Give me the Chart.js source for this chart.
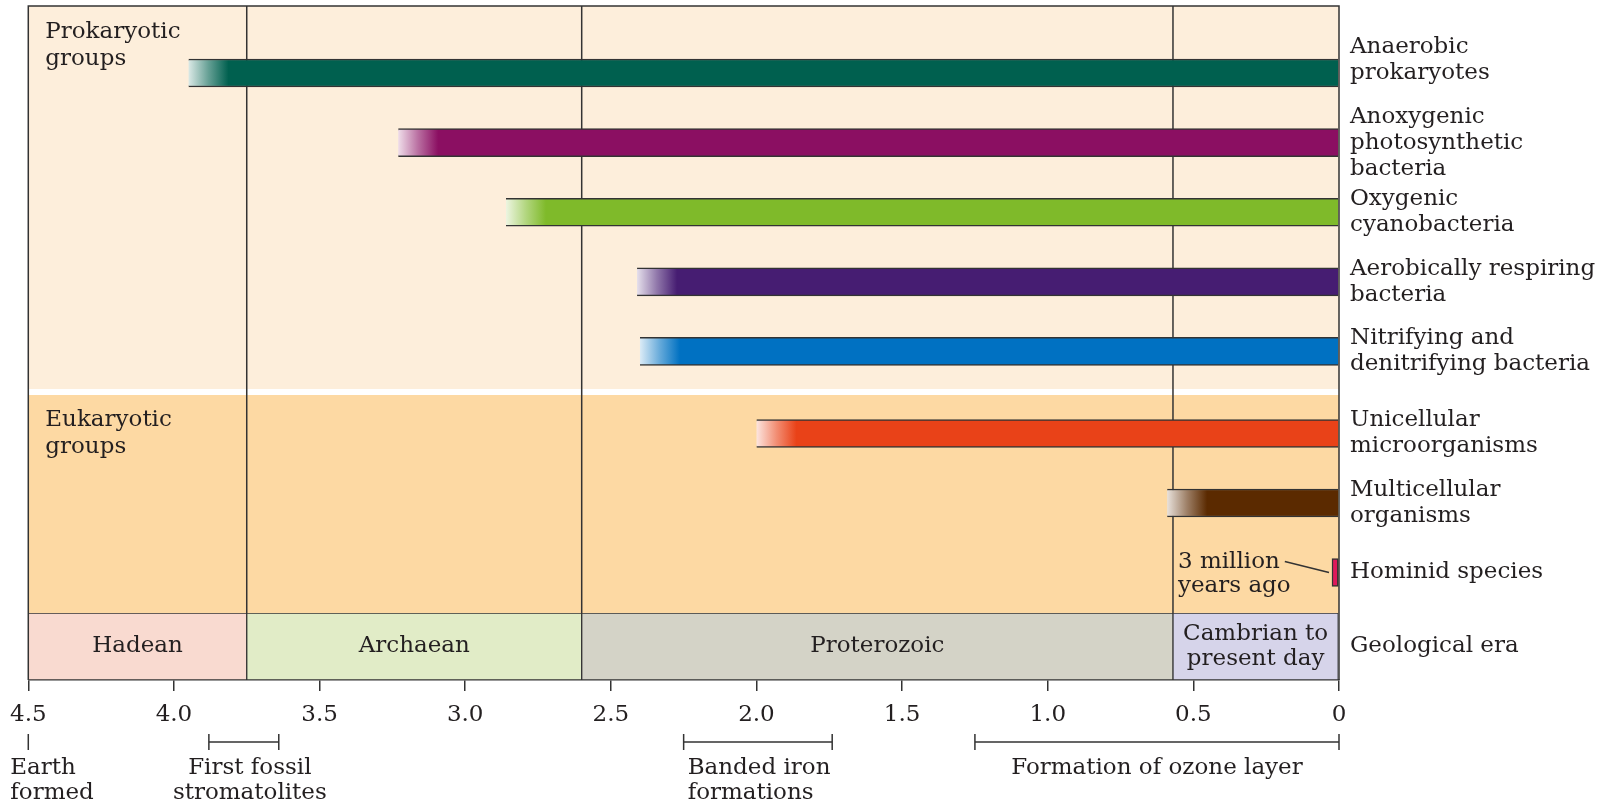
<!DOCTYPE html>
<html>
<head>
<meta charset="utf-8">
<script src="https://cdn.jsdelivr.net/npm/chart.js@4/dist/chart.umd.min.js"></script>
<style>
html,body{margin:0;padding:0;background:#ffffff;}
#c{display:block;}
</style>
</head>
<body>
<canvas id="c" width="1615" height="806"></canvas>
<script>
// ---------------- DATA ----------------
const proGroups = [["Anaerobic","prokaryotes",""],["Anoxygenic","photosynthetic","bacteria"],["Oxygenic","cyanobacteria"],["Aerobically respiring","bacteria"],["Nitrifying and","denitrifying bacteria"]];
const proStart = [3.95, 3.23, 2.86, 2.41, 2.40];   // billion years ago
const proEnd = [0, 0, 0, 0, 0];
const proColors = ["#00604f","#8b0f62","#7fba2a","#461d72","#0071c2"];

const eukGroups = [["Unicellular","microorganisms"],["Multicellular","organisms"],["Hominid species"]];
const eukStart = [2.0, 0.59, 0.003];
const eukEnd = [0, 0, 0];
const eukColors = ["#e94218","#5b2a00","#e0185a"];

const eraRowLabel = [["Geological era"]];
const eraNames = ["Hadean","Archaean","Proterozoic",["Cambrian to","present day"]];
const eraStart = [4.5, 3.75, 2.6, 0.57];
const eraEnd = [3.75, 2.6, 0.57, 0];
const eraColors = ["#f9dad0","#e1ecc7","#d4d3c7","#d6d4ea"];

const sectionTitles = [["Prokaryotic","groups"],["Eukaryotic","groups"]];
const hominidNote = ["3 million","years ago"];

const xTickValues = [4.5, 4.0, 3.5, 3.0, 2.5, 2.0, 1.5, 1.0, 0.5, 0];
const xTickLabels = ["4.5","4.0","3.5","3.0","2.5","2.0","1.5","1.0","0.5","0"];

const eventLabels = [["Earth","formed"],["First fossil","stromatolites"],["Banded iron","formations"],["Formation of ozone layer"]];
const eventStart = [4.5, 3.88, 2.25, 1.25];
const eventEnd = [4.5, 3.64, 1.74, 0];

// ---------------- STYLE ----------------
const FONT = "'DejaVu Serif', 'Liberation Serif', serif";
const FSIZE = 23;
const TXT = "#231f20";
const LINE = "#333333";
const PRO_BG = "#fdeedb";
const EUK_BG = "#fdd9a3";
const eventTextStyle = [{align:"left", dx:-18},{align:"center", dx:6},{align:"left", dx:4},{align:"center", dx:0}];

function hexRgb(h){const n=parseInt(h.slice(1),16);return [(n>>16)&255,(n>>8)&255,n&255];}
function mixWhite(h,t){const c=hexRgb(h);return "rgb("+c.map(v=>Math.round(255+(v-255)*t)).join(",")+")";}

function fadeFill(colors, starts, solidIdx){
  return (ctx) => {
    const i = ctx.dataIndex;
    if (i === undefined) return colors[0];
    const c = colors[i];
    if (solidIdx !== undefined && i === solidIdx) return c;
    const chart = ctx.chart;
    const xs = chart.scales && chart.scales.x;
    if (!chart.chartArea || !xs || !isFinite(xs.getPixelForValue(starts[i]))) return c;
    const x0 = xs.getPixelForValue(starts[i]);
    const g = chart.ctx.createLinearGradient(x0, 0, x0 + 40, 0);
    g.addColorStop(0, mixWhite(c, 0.14));
    g.addColorStop(0.5, mixWhite(c, 0.6));
    g.addColorStop(1, c);
    return g;
  };
}

const barEdge = {top:1.5, bottom:1.5, left:0, right:0};

function rowAxis(labels, weight, order, min, max){
  return {
    type: "linear", position: "right", stack: "rows", stackWeight: weight, weight: order,
    reverse: true, min: min, max: max, bounds: "data", offset: false,
    afterBuildTicks: (s) => { s.ticks = labels.map((_, i) => ({value: i})); },
    ticks: { autoSkip: false, padding: 11, color: TXT, font: {family: FONT, size: FSIZE, lineHeight: 1.13},
             callback: (v, i) => labels[i] },
    grid: { display: false, drawTicks: false, offset: false },
    border: { display: false },
    afterFit: (s) => { s.width = 276; s.paddingTop = 0; s.paddingBottom = 0; }
  };
}

function drawLines(ctx, lines, x, y, lh){
  lines.forEach((t, k) => ctx.fillText(t, x, y + k * lh));
}

const decor = {
  id: "decor",
  beforeDraw(chart){
    const {ctx, chartArea: a, scales} = chart;
    ctx.save();
    ctx.fillStyle = PRO_BG;
    ctx.fillRect(a.left, scales.yPro.top, a.width, scales.yPro.bottom - scales.yPro.top);
    ctx.fillStyle = EUK_BG;
    ctx.fillRect(a.left, scales.yEu.top, a.width, scales.yEu.bottom - scales.yEu.top);
    ctx.restore();
  },
  beforeDatasetsDraw(chart){
    const {ctx, chartArea: a, scales} = chart;
    ctx.save();
    ctx.fillStyle = "#ffffff";
    ctx.fillRect(a.left, scales.yPro.bottom - 3, a.width, 6);
    ctx.strokeStyle = LINE; ctx.lineWidth = 1.5;
    eraStart.slice(1).forEach(v => {
      const x = scales.x.getPixelForValue(v);
      ctx.beginPath(); ctx.moveTo(x, a.top); ctx.lineTo(x, scales.yEra.top); ctx.stroke();
    });
    ctx.restore();
  },
  afterDatasetsDraw(chart){
    const {ctx, chartArea: a, scales} = chart;
    ctx.save();
    // frame
    ctx.strokeStyle = LINE; ctx.lineWidth = 1.5;
    ctx.beginPath();
    ctx.moveTo(a.left, a.bottom); ctx.lineTo(a.left, a.top); ctx.lineTo(a.right, a.top); ctx.lineTo(a.right, a.bottom);
    ctx.stroke();
    ctx.fillStyle = TXT;
    ctx.font = FSIZE + "px " + FONT;
    // section titles
    ctx.textAlign = "left"; ctx.textBaseline = "alphabetic";
    drawLines(ctx, sectionTitles[0], a.left + 17, scales.yPro.top + 32, 27);
    drawLines(ctx, sectionTitles[1], a.left + 17, scales.yEu.top + 34, 27);
    // era names
    ctx.textAlign = "center"; ctx.textBaseline = "middle";
    chart.getDatasetMeta(2).data.forEach((el, i) => {
      const lines = Array.isArray(eraNames[i]) ? eraNames[i] : [eraNames[i]];
      const cx = (el.x + el.base) / 2;
      const lh = 25;
      drawLines(ctx, lines, cx, el.y - (lines.length - 1) * lh / 2, lh);
    });
    // hominid note
    const hel = chart.getDatasetMeta(1).data[2];
    const left = Math.min(hel.x, hel.base);
    const tx = scales.x.getPixelForValue(eraStart[3]) + 5;
    ctx.textAlign = "left";
    drawLines(ctx, hominidNote, tx, hel.y - 10, 24);
    const w = ctx.measureText(hominidNote[0]).width;
    ctx.strokeStyle = LINE; ctx.lineWidth = 1.5;
    ctx.beginPath(); ctx.moveTo(tx + w + 5, hel.y - 11); ctx.lineTo(left - 3, hel.y); ctx.stroke();
    ctx.restore();
  },
  afterDraw(chart){
    const {ctx, chartArea: a, scales} = chart;
    ctx.save();
    ctx.strokeStyle = LINE; ctx.lineWidth = 1.5;
    ctx.fillStyle = TXT; ctx.font = FSIZE + "px " + FONT; ctx.textBaseline = "middle";
    const by = a.bottom + 62;
    eventLabels.forEach((lab, i) => {
      const x0 = scales.x.getPixelForValue(eventStart[i]);
      const x1 = scales.x.getPixelForValue(eventEnd[i]);
      ctx.beginPath();
      ctx.moveTo(x0, by - 8); ctx.lineTo(x0, by + 8);
      if (x1 !== x0) {
        ctx.moveTo(x0, by); ctx.lineTo(x1, by);
        ctx.moveTo(x1, by - 8); ctx.lineTo(x1, by + 8);
      }
      ctx.stroke();
      const st = eventTextStyle[i];
      ctx.textAlign = st.align;
      const tx = st.align === "center" ? (x0 + x1) / 2 + st.dx : x0 + st.dx;
      drawLines(ctx, lab, tx, a.bottom + 88, 25);
    });
    ctx.restore();
  }
};

new Chart(document.getElementById("c"), {
  type: "bar",
  data: {
    datasets: [
      {
        label: "Prokaryotic groups", yAxisID: "yPro", grouped: false,
        data: proStart.map((s, i) => ({y: i, x: [s, proEnd[i]]})),
        backgroundColor: fadeFill(proColors, proStart),
        borderColor: LINE, borderWidth: barEdge, borderSkipped: false, barThickness: 28, maxBarThickness: 28
      },
      {
        label: "Eukaryotic groups", yAxisID: "yEu", grouped: false,
        data: eukStart.map((s, i) => ({y: i, x: [s, eukEnd[i]]})),
        backgroundColor: fadeFill(eukColors, eukStart, 2),
        borderColor: LINE,
        borderWidth: (ctx) => ctx.dataIndex === 2 ? 1.5 : barEdge,
        borderSkipped: false, barThickness: 28, maxBarThickness: 28, minBarLength: 7
      },
      {
        label: "Geological era", yAxisID: "yEra", grouped: false,
        data: eraStart.map((s, i) => ({y: 0, x: [s, eraEnd[i]]})),
        backgroundColor: eraColors,
        borderColor: LINE, borderWidth: 1, borderSkipped: false, barThickness: 67, maxBarThickness: 67
      }
    ]
  },
  options: {
    indexAxis: "y",
    responsive: false, animation: false, devicePixelRatio: 1,
    layout: { padding: { left: 26, top: 6, right: 0, bottom: 0 } },
    plugins: { legend: { display: false }, tooltip: { enabled: false } },
    scales: {
      x: {
        type: "linear", position: "bottom", min: 0, max: 4.5, reverse: true,
        afterBuildTicks: (s) => { s.ticks = xTickValues.map(v => ({value: v})); },
        ticks: { autoSkip: false, maxRotation: 0, padding: 10, color: TXT, font: {family: FONT, size: FSIZE},
                 callback: (v, i) => xTickLabels[i] },
        grid: { drawOnChartArea: false, drawTicks: true, tickLength: 11, color: LINE, lineWidth: 1.5 },
        border: { display: true, color: LINE, width: 1.5 },
        afterFit: (s) => { s.height = 126; }
      },
      yPro: rowAxis(proGroups, 386, 1, -0.963, 4.583),
      yEu: rowAxis(eukGroups, 221, 2, -0.597, 2.583),
      yEra: rowAxis(eraRowLabel, 67, 3, -0.5, 0.5)
    }
  },
  plugins: [decor]
});
</script>
</body>
</html>
